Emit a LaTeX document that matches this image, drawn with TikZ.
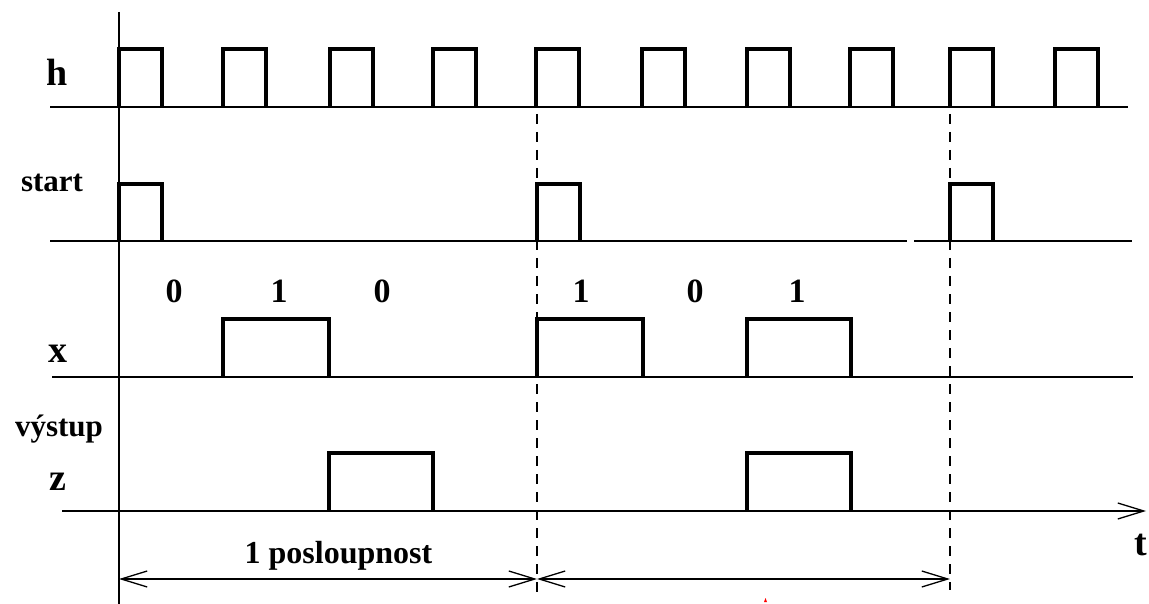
\documentclass[tikz,border=0pt]{standalone}
\usepackage{fontspec}
\setmainfont{Liberation Serif}
\usetikzlibrary{arrows.meta}
\tikzset{
  thinln/.style={line width=1.8pt},
  sigln/.style={line width=3.8pt, line join=miter},
  dashln/.style={line width=1.6pt, dash pattern=on 10pt off 8pt},
  barb/.style={line width=1.8pt, arrows={Straight Barb[length=26pt,width=16pt,line width=1.3pt]-Straight Barb[length=26pt,width=16pt,line width=1.3pt]}},
  lblbig/.style={inner sep=0pt, anchor=base, font=\bfseries\fontsize{38}{40}\selectfont},
  lblmid/.style={inner sep=0pt, anchor=base, font=\bfseries\fontsize{31}{34}\selectfont},
  lbldig/.style={inner sep=0pt, anchor=base, font=\bfseries\fontsize{34}{36}\selectfont},
}
\begin{document}
\begin{tikzpicture}[x=1pt,y=-1pt]
\useasboundingbox (0,0) rectangle (1149,604);
\fill[white] (0,0) rectangle (1149,604);
% axis
\coordinate (axT) at (119,12);
\coordinate (axB) at (119,604);
\draw[thinln] (axT) -- (axB);
% dashed separators
\coordinate (d1T) at (537,114);
\coordinate (d1B) at (537,592);
\coordinate (d2T) at (950,114);
\coordinate (d2B) at (950,590);
\draw[dashln] (d1T) -- (d1B);
\draw[dashln] (d2T) -- (d2B);
% h row
\draw[thinln] (50,107) -- (1128,107);
\foreach \s in {119,223,330,433,536,642,747,850,950,1055}
  \draw[sigln] (\s,107) -- (\s,49) -- (\s+43,49) -- (\s+43,107);
% start row
\draw[thinln] (50,241) -- (907,241);
\draw[thinln] (914,241) -- (1132,241);
\foreach \s in {119,537,950}
  \draw[sigln] (\s,241) -- (\s,184) -- (\s+43,184) -- (\s+43,241);
% x row
\draw[thinln] (52,377) -- (1133,377);
\foreach \a/\b in {223/329,537/643,747/851}
  \draw[sigln] (\a,377) -- (\a,319) -- (\b,319) -- (\b,377);
% z row with time arrow
\coordinate (zL) at (62,511);
\coordinate (zR) at (1146,511);
\draw[thinln, -{Straight Barb[length=26pt,width=16pt,line width=1.3pt]}] (zL) -- (zR);
\foreach \a/\b in {329/433,747/851}
  \draw[sigln] (\a,511) -- (\a,453) -- (\b,453) -- (\b,511);
% bottom span arrows
\coordinate (s0) at (119,579);
\coordinate (s1) at (537,579);
\coordinate (s2) at (950,579);
\draw[barb] (s0) -- (s1);
\draw[barb] (s1) -- (s2);
% labels
\node[lblbig] (lh) at (57,86) {h};
\node[lblmid] (lstart) at (52,192) {start};
\node[lblbig] (lx) at (57.5,362) {x};
\node[lblmid] (lvys) at (59,436) {výstup};
\node[lblbig] (lz) at (58,490) {z};
\node[lblbig] (lt) at (1141,555) {t};
\node[lbldig] (b1) at (174,302) {0};
\node[lbldig] (b2) at (279,302) {1};
\node[lbldig] (b3) at (382,302) {0};
\node[lbldig] (b4) at (581,302) {1};
\node[lbldig] (b5) at (695,302) {0};
\node[lbldig] (b6) at (797,302) {1};
\node[inner sep=0pt, anchor=base, font=\bfseries\fontsize{32}{34}\selectfont] (lpos) at (338.5,563) {1 posloupnost};
% tiny red mark
\fill[red] (764,602) -- (765.5,598) -- (767,602) -- cycle;
\end{tikzpicture}
\end{document}
